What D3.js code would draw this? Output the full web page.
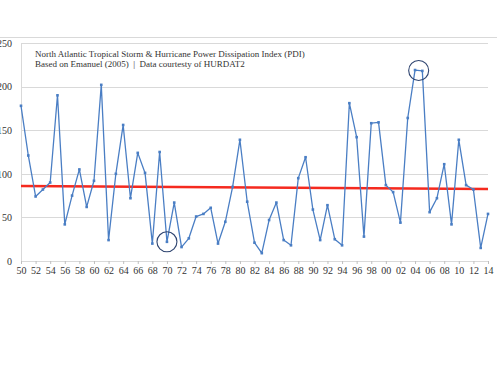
<!DOCTYPE html>
<html>
<head>
<meta charset="utf-8">
<script src="https://cdn.jsdelivr.net/npm/d3@7"></script>
<style>
  body { margin: 0; background: #fff; }
  svg text { font-family: "Liberation Serif", "DejaVu Serif", serif; }
</style>
</head>
<body>
<div id="chart"></div>
<script>
// PDI by year
const years = d3.range(1950, 2015);
const pdi = [178, 121, 74, 82, 90, 190, 42, 75, 105, 62,
             92, 202, 24, 100, 156, 72, 124, 101, 20, 125,
             22, 67, 16, 26, 51, 54, 61, 20, 45, 85,
             139, 68, 21, 9, 47, 67, 24, 18, 95, 119,
             59, 24, 64, 25, 18, 181, 142, 28, 158, 159,
             87, 79, 44, 164, 219, 218, 56, 72, 111, 42,
             139, 87, 82, 15, 54];
const trendYears = [1950, 2014];
const trendVals = [86, 82.5];
const circledYears = [1970, 2004.5];
const circledVals = [22, 218.5];
const yTicks = [0, 50, 100, 150, 200, 250];
const titleLines = [
  "North Atlantic Tropical Storm & Hurricane Power Dissipation Index (PDI)",
  "Based on Emanuel (2005)  |  Data courtesty of HURDAT2"
];

const data = years.map((yr, i) => ({year: yr, value: pdi[i]}));

const width = 500, height = 375;
const margin = {top: 43, right: 12, bottom: 114, left: 21};
const visWidth = width - margin.left - margin.right;
const visHeight = height - margin.top - margin.bottom;

const svg = d3.select("#chart").append("svg")
    .attr("width", width)
    .attr("height", height);

// thin frame line across the top
svg.append("line")
    .attr("x1", 0).attr("x2", 497)
    .attr("y1", 37.5).attr("y2", 37.5)
    .attr("stroke", "#d9d9d9")
    .attr("stroke-width", 1);

const g = svg.append("g")
    .attr("transform", `translate(${margin.left}, ${margin.top})`);

const x = d3.scaleLinear()
    .domain([1950, 2014])
    .range([0, visWidth]);

const y = d3.scaleLinear()
    .domain([0, 250])
    .range([visHeight, 0]);

// horizontal grid lines
g.append("g")
  .selectAll("line")
  .data(yTicks.filter(d => d > 0))
  .join("line")
    .attr("x1", 0)
    .attr("x2", visWidth)
    .attr("y1", d => Math.round(y(d)) + 0.5)
    .attr("y2", d => Math.round(y(d)) + 0.5)
    .attr("stroke", "#d9d9d9")
    .attr("stroke-width", 1);

// y axis
const yAxis = d3.axisLeft(y).tickValues(yTicks).tickSize(0).tickPadding(9);
g.append("g")
    .call(yAxis)
    .call(g => g.select(".domain").attr("stroke", "#d9d9d9"))
    .call(g => g.selectAll("text")
        .attr("fill", "#333")
        .attr("font-size", "10px")
        .style("font-family", "\"Liberation Serif\", serif"));

// x axis
const xAxis = d3.axisBottom(x)
    .tickValues(d3.range(1950, 2015, 2))
    .tickSize(3)
    .tickPadding(3)
    .tickFormat(d => String(d % 100).padStart(2, "0"));
g.append("g")
    .attr("transform", `translate(0,${visHeight})`)
    .call(xAxis)
    .call(g => g.select(".domain").attr("stroke", "#d9d9d9"))
    .call(g => g.selectAll(".tick line").attr("stroke", "#bfbfbf"))
    .call(g => g.selectAll("text")
        .attr("fill", "#333")
        .attr("font-size", "10px")
        .style("font-family", "\"Liberation Serif\", serif"));

// trend line
g.append("line")
    .attr("x1", x(trendYears[0]))
    .attr("x2", x(trendYears[1]))
    .attr("y1", y(trendVals[0]))
    .attr("y2", y(trendVals[1]))
    .attr("stroke", "#f52a1f")
    .attr("stroke-width", 2.5);

// data line
const line = d3.line()
    .x(d => x(d.year))
    .y(d => y(d.value));

g.append("path")
    .datum(data)
    .attr("d", line)
    .attr("fill", "none")
    .attr("stroke", "#4a7ec4")
    .attr("stroke-width", 1.3)
    .attr("stroke-linejoin", "round");

g.append("g")
  .selectAll("rect")
  .data(data)
  .join("rect")
    .attr("x", d => x(d.year) - 1.3)
    .attr("y", d => y(d.value) - 1.3)
    .attr("width", 2.6)
    .attr("height", 2.6)
    .attr("fill", "#4a7ec4");

// highlight circles
g.append("g")
  .selectAll("circle")
  .data(circledYears)
  .join("circle")
    .attr("cx", d => x(d))
    .attr("cy", (d, i) => y(circledVals[i]))
    .attr("r", 10)
    .attr("fill", "none")
    .attr("stroke", "#2e4470")
    .attr("stroke-width", 1.1);

// title
svg.append("g")
  .selectAll("text")
  .data(titleLines)
  .join("text")
    .attr("x", 35)
    .attr("y", (d, i) => 57 + i * 10)
    .attr("fill", "#333")
    .attr("font-size", "9px")
    .style("white-space", "pre")
    .text(d => d);
</script>
</body>
</html>
